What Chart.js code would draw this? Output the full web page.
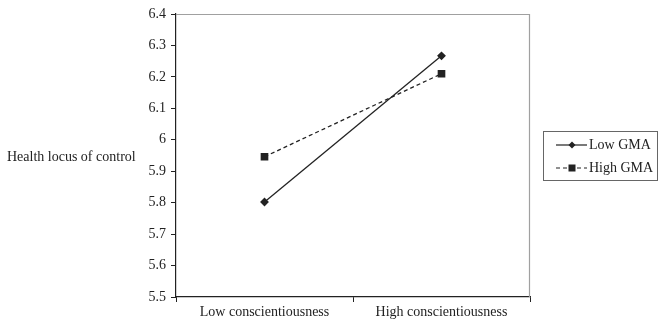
<!DOCTYPE html>
<html>
<head>
<meta charset="utf-8">
<script src="https://cdn.jsdelivr.net/npm/chart.js@4"></script>
<style>
  html, body { margin: 0; padding: 0; background: #fff; }
  #wrap { width: 662px; height: 323px; }
</style>
</head>
<body>
<div id="wrap"><canvas id="myChart" width="662" height="323"></canvas></div>
<script>
// data
const categories = ['Low conscientiousness', 'High conscientiousness'];
const lowGMA = [5.802, 6.267];
const highGMA = [5.946, 6.210];
const seriesNames = ['Low GMA', 'High GMA'];
const yMin = 5.5, yMax = 6.4, yStep = 0.1;

const FONT = '"Liberation Serif", "Times New Roman", serif';
const INK = '#222';

// y title is horizontal, plus the grey frame on top/right
const decorPlugin = {
  id: 'decor',
  afterDraw(chart) {
    const c = chart.ctx, a = chart.chartArea;
    c.save();
    c.strokeStyle = '#a0a0a0';
    c.lineWidth = 1.2;
    c.beginPath();
    c.moveTo(a.left, a.top + 0.5);
    c.lineTo(a.right - 0.5, a.top + 0.5);
    c.lineTo(a.right - 0.5, a.bottom);
    c.stroke();

    c.fillStyle = INK;
    c.font = '14px ' + FONT;
    c.textBaseline = 'middle';
    c.fillText('Health locus of control', 7, 157);
    c.restore();
  }
};

// boxed legend on the right with line + marker samples
const legendPlugin = {
  id: 'boxLegend',
  afterDraw(chart) {
    const c = chart.ctx;
    const bx = 543, by = 131, bw = 114, bh = 49;
    c.save();
    c.strokeStyle = '#666';
    c.lineWidth = 1;
    c.strokeRect(bx + 0.5, by + 0.5, bw, bh);
    chart.data.datasets.forEach((ds, i) => {
      const y = by + 14 + i * 23;
      c.strokeStyle = INK;
      c.lineWidth = 1.2;
      c.setLineDash(ds.borderDash || []);
      c.beginPath();
      c.moveTo(bx + 13, y);
      c.lineTo(bx + 44, y);
      c.stroke();
      c.setLineDash([]);
      c.fillStyle = INK;
      const mx = bx + 29;
      if (ds.pointStyle === 'rect') {
        c.fillRect(mx - 3.5, y - 3.5, 7, 7);
      } else {
        c.beginPath();
        c.moveTo(mx, y - 3.5);
        c.lineTo(mx + 3.5, y);
        c.lineTo(mx, y + 3.5);
        c.lineTo(mx - 3.5, y);
        c.closePath();
        c.fill();
      }
      c.font = '14px ' + FONT;
      c.textBaseline = 'middle';
      c.fillText(ds.label, bx + 46, y);
    });
    c.restore();
  }
};

const ctx = document.getElementById('myChart').getContext('2d');
new Chart(ctx, {
  type: 'line',
  data: {
    labels: categories,
    datasets: [{
      label: seriesNames[0],
      data: lowGMA,
      borderColor: INK,
      backgroundColor: INK,
      borderWidth: 1.3,
      pointStyle: 'rectRot',
      pointRadius: 3.5,
      fill: false,
      tension: 0
    }, {
      label: seriesNames[1],
      data: highGMA,
      borderColor: INK,
      backgroundColor: INK,
      borderWidth: 1.3,
      borderDash: [4, 3],
      pointStyle: 'rect',
      pointRadius: 4.5,
      fill: false,
      tension: 0
    }]
  },
  options: {
    responsive: false,
    animation: false,
    layout: { padding: { left: 0, right: 132, top: 14, bottom: 0 } },
    plugins: {
      legend: { display: false },
      tooltip: { enabled: false }
    },
    scales: {
      x: {
        offset: true,
        grid: { offset: true, drawOnChartArea: false, drawTicks: true, tickLength: 5, color: INK },
        border: { color: INK, width: 1.2 },
        ticks: { color: INK, font: { family: FONT, size: 14 }, padding: 2, maxRotation: 0 },
        afterFit(s) { s.height = 26; }
      },
      y: {
        min: yMin,
        max: yMax,
        grid: { drawOnChartArea: false, drawTicks: true, tickLength: 5, color: INK },
        border: { color: INK, width: 1.2 },
        ticks: {
          stepSize: yStep,
          color: INK,
          font: { family: FONT, size: 14 },
          padding: 5,
          callback: v => (Math.round(v * 10) / 10).toString()
        },
        afterFit(s) { s.width = 176; }
      }
    }
  },
  plugins: [decorPlugin, legendPlugin]
});
</script>
</body>
</html>
